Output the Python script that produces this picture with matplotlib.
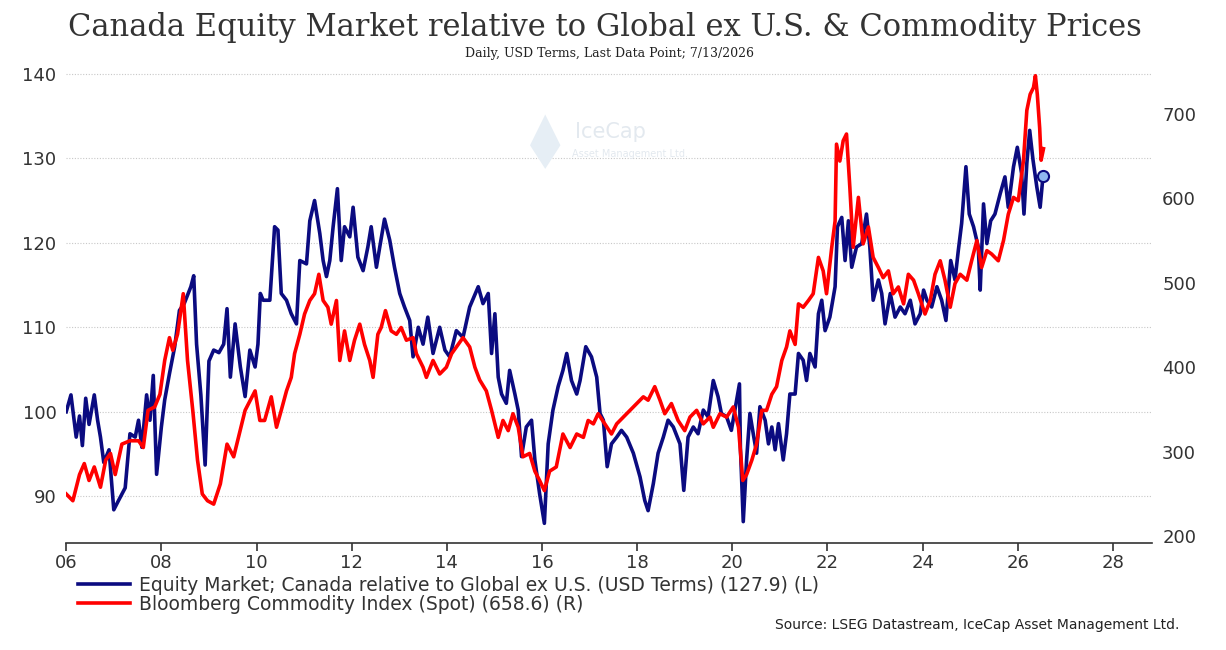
import matplotlib
matplotlib.use("Agg")
import matplotlib.pyplot as plt
from matplotlib.patches import Polygon

# Canada equity relative to Global ex U.S. (left axis)
eq_years = [2006.00, 2006.10, 2006.21, 2006.28, 2006.34, 2006.41, 2006.48, 2006.59, 2006.66, 2006.72,
            2006.79, 2006.90, 2007.00, 2007.10, 2007.24, 2007.34, 2007.45, 2007.52, 2007.59, 2007.69,
            2007.76, 2007.83, 2007.90, 2008.00, 2008.07, 2008.17, 2008.28, 2008.38, 2008.48, 2008.62,
            2008.68, 2008.74, 2008.83, 2008.92, 2009.00, 2009.10, 2009.21, 2009.31, 2009.38, 2009.45,
            2009.55, 2009.66, 2009.76, 2009.86, 2009.97, 2010.03, 2010.08, 2010.14, 2010.28, 2010.38,
            2010.45, 2010.52, 2010.63, 2010.73, 2010.84, 2010.91, 2011.05, 2011.12, 2011.22, 2011.33,
            2011.40, 2011.47, 2011.54, 2011.61, 2011.70, 2011.78, 2011.85, 2011.96, 2012.03, 2012.13,
            2012.24, 2012.34, 2012.41, 2012.52, 2012.59, 2012.69, 2012.80, 2012.90, 2013.01, 2013.11,
            2013.22, 2013.29, 2013.40, 2013.50, 2013.60, 2013.71, 2013.85, 2013.96, 2014.06, 2014.20,
            2014.34, 2014.48, 2014.66, 2014.76, 2014.87, 2014.94, 2015.01, 2015.08, 2015.15, 2015.25,
            2015.32, 2015.43, 2015.50, 2015.57, 2015.67, 2015.78, 2015.85, 2015.95, 2016.05, 2016.13,
            2016.23, 2016.34, 2016.44, 2016.52, 2016.62, 2016.73, 2016.80, 2016.92, 2017.04, 2017.15,
            2017.22, 2017.29, 2017.37, 2017.46, 2017.57, 2017.67, 2017.78, 2017.92, 2018.06, 2018.16,
            2018.23, 2018.34, 2018.44, 2018.55, 2018.65, 2018.76, 2018.90, 2018.98, 2019.07, 2019.18,
            2019.28, 2019.39, 2019.49, 2019.60, 2019.70, 2019.77, 2019.88, 2019.98, 2020.09, 2020.15,
            2020.17, 2020.23, 2020.30, 2020.37, 2020.44, 2020.51, 2020.58, 2020.69, 2020.76, 2020.83,
            2020.90, 2020.97, 2021.07, 2021.14, 2021.21, 2021.32, 2021.39, 2021.49, 2021.56, 2021.63,
            2021.74, 2021.81, 2021.88, 2021.95, 2022.05, 2022.16, 2022.21, 2022.30, 2022.37, 2022.44,
            2022.51, 2022.61, 2022.72, 2022.82, 2022.89, 2022.96, 2023.07, 2023.14, 2023.21, 2023.32,
            2023.42, 2023.53, 2023.63, 2023.74, 2023.84, 2023.95, 2024.02, 2024.09, 2024.19, 2024.30,
            2024.40, 2024.49, 2024.59, 2024.68, 2024.75, 2024.82, 2024.91, 2024.98, 2025.07, 2025.17,
            2025.21, 2025.28, 2025.35, 2025.43, 2025.52, 2025.63, 2025.73, 2025.80, 2025.91, 2025.99,
            2026.08, 2026.13, 2026.19, 2026.25, 2026.32, 2026.40, 2026.47, 2026.53]
eq_vals = [100.0, 102.0, 97.0, 99.5, 96.0, 101.6, 98.5, 102.0, 99.0, 97.0,
           94.0, 95.5, 88.4, 89.5, 91.0, 97.4, 97.0, 99.0, 95.8, 102.0,
           99.0, 104.3, 92.6, 98.2, 101.4, 104.5, 107.7, 112.0, 112.8, 114.8,
           116.1, 108.0, 102.0, 93.7, 106.0, 107.3, 107.0, 108.0, 112.2, 104.1,
           110.4, 105.3, 101.8, 107.3, 105.3, 108.0, 114.0, 113.2, 113.2, 121.9,
           121.5, 114.0, 113.2, 111.6, 110.4, 117.9, 117.5, 122.6, 125.0, 121.1,
           117.9, 116.0, 117.9, 121.9, 126.4, 117.9, 121.9, 120.7, 124.2, 118.3,
           116.7, 119.5, 121.9, 117.1, 119.5, 122.8, 120.3, 117.1, 114.0, 112.4,
           110.8, 106.5, 110.0, 108.0, 111.2, 106.9, 110.0, 107.3, 106.5, 109.6,
           108.8, 112.4, 114.8, 112.8, 114.0, 106.9, 111.6, 104.1, 102.1, 101.0,
           104.9, 102.1, 100.2, 94.7, 98.2, 99.0, 94.3, 90.3, 86.8, 96.2,
           100.2, 103.0, 104.9, 106.9, 103.7, 102.1, 103.7, 107.7, 106.5, 104.1,
           99.8, 99.0, 93.5, 96.2, 97.0, 97.8, 97.0, 95.1, 92.3, 89.5,
           88.3, 91.5, 95.1, 97.0, 99.0, 98.2, 96.2, 90.7, 97.0, 98.2,
           97.4, 100.2, 99.4, 103.7, 101.8, 99.8, 99.4, 97.8, 101.4, 103.3,
           95.8, 87.0, 94.3, 99.8, 97.4, 95.1, 100.6, 99.0, 96.2, 98.2,
           95.5, 98.6, 94.3, 97.4, 102.1, 102.1, 106.9, 106.1, 103.7, 106.9,
           105.3, 111.6, 113.2, 109.6, 111.2, 114.8, 121.9, 123.0, 117.9, 122.6,
           117.1, 119.5, 119.9, 123.4, 119.5, 113.2, 115.6, 114.0, 110.4, 114.0,
           111.2, 112.4, 111.6, 113.2, 110.4, 111.6, 114.4, 113.2, 112.4, 114.8,
           113.2, 110.8, 117.9, 115.6, 119.1, 122.3, 129.0, 123.4, 121.9, 119.5,
           114.4, 124.6, 119.9, 122.6, 123.4, 125.8, 127.8, 124.2, 129.0, 131.3,
           128.2, 123.4, 129.4, 133.3, 129.8, 126.6, 124.2, 127.9]

# Bloomberg Commodity Index spot (right axis)
cm_years = [2006.00, 2006.14, 2006.28, 2006.38, 2006.48, 2006.59, 2006.72, 2006.83, 2006.93, 2007.03,
            2007.17, 2007.34, 2007.52, 2007.62, 2007.72, 2007.86, 2007.97, 2008.07, 2008.17, 2008.24,
            2008.34, 2008.46, 2008.55, 2008.66, 2008.76, 2008.86, 2008.97, 2009.10, 2009.24, 2009.38,
            2009.52, 2009.62, 2009.76, 2009.97, 2010.07, 2010.17, 2010.31, 2010.42, 2010.52, 2010.63,
            2010.73, 2010.80, 2010.91, 2011.01, 2011.12, 2011.22, 2011.31, 2011.40, 2011.50, 2011.57,
            2011.68, 2011.75, 2011.85, 2011.96, 2012.06, 2012.17, 2012.27, 2012.38, 2012.45, 2012.55,
            2012.62, 2012.71, 2012.83, 2012.94, 2013.04, 2013.15, 2013.29, 2013.36, 2013.50, 2013.57,
            2013.71, 2013.85, 2013.99, 2014.10, 2014.24, 2014.34, 2014.48, 2014.59, 2014.69, 2014.83,
            2014.94, 2015.08, 2015.18, 2015.29, 2015.39, 2015.50, 2015.60, 2015.74, 2015.85, 2015.95,
            2016.05, 2016.16, 2016.30, 2016.44, 2016.59, 2016.73, 2016.87, 2016.97, 2017.08, 2017.18,
            2017.32, 2017.46, 2017.57, 2017.71, 2017.85, 2017.99, 2018.13, 2018.23, 2018.37, 2018.48,
            2018.58, 2018.72, 2018.86, 2019.00, 2019.11, 2019.25, 2019.39, 2019.53, 2019.60, 2019.74,
            2019.88, 2020.02, 2020.13, 2020.22, 2020.30, 2020.41, 2020.51, 2020.62, 2020.72, 2020.83,
            2020.93, 2021.04, 2021.14, 2021.21, 2021.32, 2021.39, 2021.49, 2021.60, 2021.70, 2021.81,
            2021.91, 2021.98, 2022.09, 2022.16, 2022.19, 2022.26, 2022.33, 2022.40, 2022.47, 2022.54,
            2022.65, 2022.75, 2022.86, 2022.96, 2023.07, 2023.17, 2023.28, 2023.38, 2023.49, 2023.60,
            2023.70, 2023.81, 2023.91, 2024.05, 2024.16, 2024.26, 2024.37, 2024.47, 2024.58, 2024.68,
            2024.79, 2024.93, 2025.03, 2025.14, 2025.24, 2025.35, 2025.45, 2025.59, 2025.70, 2025.80,
            2025.91, 2026.01, 2026.12, 2026.19, 2026.26, 2026.33, 2026.37, 2026.41, 2026.46, 2026.49,
            2026.54]
cm_vals = [250, 242, 273, 286, 266, 282, 258, 290, 298, 273,
           309, 313, 313, 305, 349, 353, 368, 408, 435, 420,
           439, 487, 408, 349, 290, 250, 242, 238, 262, 309,
           294, 317, 349, 372, 337, 337, 365, 329, 349, 372,
           388, 416, 439, 463, 479, 487, 510, 479, 471, 451,
           479, 408, 443, 408, 432, 451, 427, 408, 388, 439,
           447, 467, 443, 439, 447, 432, 435, 416, 400, 388,
           408, 392, 400, 416, 427, 435, 424, 400, 385, 372,
           349, 317, 337, 325, 345, 329, 294, 298, 277, 266,
           254, 277, 282, 321, 305, 321, 317, 337, 333, 345,
           333, 321, 333, 341, 349, 357, 365, 361, 377, 361,
           345, 357, 337, 325, 341, 349, 333, 341, 329, 345,
           341, 353, 329, 266, 273, 290, 309, 349, 349, 368,
           377, 408, 424, 443, 427, 475, 471, 479, 487, 530,
           514, 487, 542, 573, 664, 644, 668, 676, 613, 542,
           601, 546, 566, 530, 518, 506, 514, 487, 495, 475,
           510, 503, 487, 463, 479, 510, 526, 503, 471, 499,
           510, 503, 526, 550, 518, 538, 534, 526, 550, 581,
           601, 597, 645, 704, 723, 731, 745, 723, 683, 645,
           658.6]

x_ticks = [2006, 2008, 2010, 2012, 2014, 2016, 2018, 2020, 2022, 2024, 2026, 2028]
x_labels = ["06", "08", "10", "12", "14", "16", "18", "20", "22", "24", "26", "28"]
left_ticks = [90, 100, 110, 120, 130, 140]
right_ticks = [200, 300, 400, 500, 600, 700]

eq_label = "Equity Market; Canada relative to Global ex U.S. (USD Terms) (127.9) (L)"
cm_label = "Bloomberg Commodity Index (Spot) (658.6) (R)"

navy = "#0b0b80"
red = "#ff0000"
txt = "#333333"

fig = plt.figure(figsize=(12.26, 6.5), dpi=100)
ax = fig.add_axes([0.054, 0.165, 0.886, 0.728])
ax2 = ax.twinx()

l1, = ax.plot(eq_years, eq_vals, color=navy, lw=2.6, label=eq_label, zorder=3)
ax.plot(eq_years[-1], eq_vals[-1], "o", ms=8, mfc="#8fb8f0", mec=navy, mew=1.5, zorder=5)
l2, = ax2.plot(cm_years, cm_vals, color=red, lw=2.6, label=cm_label)

ax.set_xlim(2006.0, 2028.83)
ax.set_ylim(84.5, 140.5)
ax2.set_ylim(192.3, 752.3)

ax.set_xticks(x_ticks)
ax.set_xticklabels(x_labels)
ax.set_yticks(left_ticks)
ax2.set_yticks(right_ticks)

ax.grid(axis="y", color="#c8c8c8", linestyle=(0, (1, 1.5)), linewidth=0.8)
ax.set_axisbelow(True)

for a in (ax, ax2):
    for s in ("top", "left", "right"):
        a.spines[s].set_visible(False)
ax2.spines["bottom"].set_visible(False)
ax.spines["bottom"].set_color(txt)
ax.spines["bottom"].set_linewidth(1.2)

ax.tick_params(axis="x", direction="out", length=6, width=1.2, color=txt,
               labelsize=13, labelcolor=txt, pad=2)
ax.tick_params(axis="y", length=0, labelsize=13, labelcolor=txt, pad=7)
ax2.tick_params(axis="y", length=0, labelsize=13, labelcolor=txt, pad=7)
for lab in ax.get_xticklabels() + ax.get_yticklabels() + ax2.get_yticklabels():
    lab.set_family("DejaVu Sans")

# watermark
diamond = Polygon([(0.441, 0.905), (0.455, 0.84), (0.441, 0.79), (0.427, 0.84)],
                  closed=True, transform=ax.transAxes, facecolor="#e6eef5",
                  edgecolor="none", zorder=1)
ax.add_patch(diamond)
ax.text(0.468, 0.855, "IceCap", transform=ax.transAxes, fontsize=15,
        color="#e3e9ef", family="DejaVu Sans", zorder=1)
ax.text(0.466, 0.815, "Asset Management Ltd.", transform=ax.transAxes, fontsize=7,
        color="#e3e9ef", family="DejaVu Sans", zorder=1)

fig.text(0.4935, 0.958, "Canada Equity Market relative to Global ex U.S. & Commodity Prices",
         ha="center", va="center", fontsize=22, family="DejaVu Serif", color=txt)
fig.text(0.4975, 0.918, "Daily, USD Terms, Last Data Point; 7/13/2026",
         ha="center", va="center", fontsize=9, family="DejaVu Serif", color="#222222")

fig.legend(handles=[l1, l2], loc="upper left", bbox_to_anchor=(0.0575, 0.126),
           frameon=False, handlelength=2.8, handletextpad=0.48,
           labelspacing=0.02, borderaxespad=0,
           prop={"family": "DejaVu Sans", "size": 13.5})
for line in fig.legends[0].get_lines():
    line.set_linewidth(2.6)
for t in fig.legends[0].get_texts():
    t.set_color(txt)

fig.text(0.962, 0.038, "Source: LSEG Datastream, IceCap Asset Management Ltd.",
         ha="right", va="center", fontsize=10, family="DejaVu Sans", color="#222222")

fig.savefig("out.png", dpi=100)
